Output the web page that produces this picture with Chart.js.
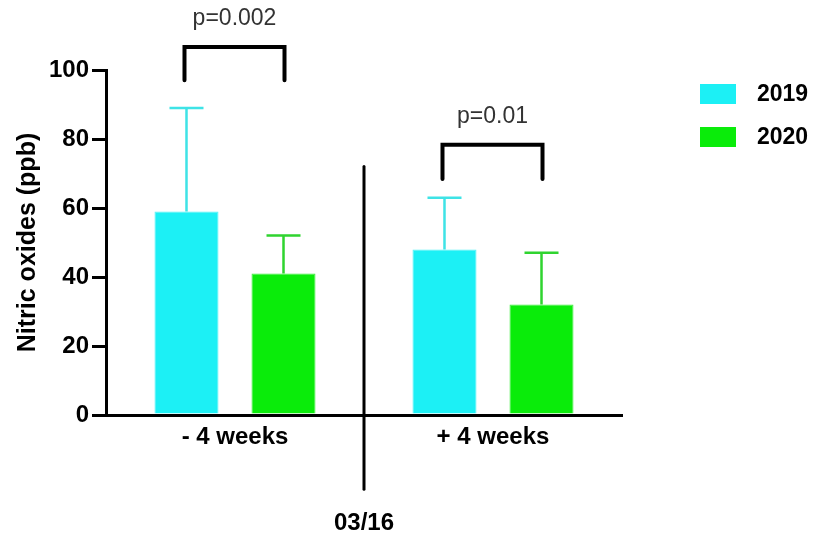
<!DOCTYPE html>
<html>
<head>
<meta charset="utf-8">
<script src="https://cdn.jsdelivr.net/npm/chart.js@4/dist/chart.umd.min.js"></script>
<style>
body{margin:0;background:#fff;}
</style>
</head>
<body>
<canvas id="bar-chart" width="826" height="541"></canvas>
<script>
var periods = ['- 4 weeks', '+ 4 weeks'];
var years = ['2019', '2020'];
var nox2019 = [59, 48];
var nox2020 = [41, 32];
var sd2019 = [30, 15];
var sd2020 = [11, 15];
var pValues = ['p=0.002', 'p=0.01'];
var splitLabel = '03/16';

var cyan = '#1cf0f5';
var green = '#0aec0a';
var FONT = '"Liberation Sans", Arial, sans-serif';

// upper error bars
var errorBars = {
	id: 'errorBars',
	afterDatasetsDraw: function(chart){
		var ctx = chart.ctx, y = chart.scales.y;
		var sds = [sd2019, sd2020];
		var cols = ['#3ee3e6', '#2fd42f'];
		chart.data.datasets.forEach(function(ds, i){
			var meta = chart.getDatasetMeta(i);
			meta.data.forEach(function(bar, j){
				var top = y.getPixelForValue(ds.data[j] + sds[i][j]);
				ctx.save();
				ctx.strokeStyle = cols[i];
				ctx.lineWidth = 2.5;
				ctx.beginPath();
				ctx.moveTo(bar.x, bar.y);
				ctx.lineTo(bar.x, top);
				ctx.moveTo(bar.x - 17, top);
				ctx.lineTo(bar.x + 17, top);
				ctx.stroke();
				ctx.restore();
			});
		});
	}
};

// significance brackets, divider line, legend
var extras = {
	id: 'extras',
	afterDraw: function(chart){
		var ctx = chart.ctx, x = chart.scales.x, y = chart.scales.y;
		var m0 = chart.getDatasetMeta(0), m1 = chart.getDatasetMeta(1);
		var levels = [[106.7, 97], [78.3, 68.4]];
		ctx.save();
		ctx.strokeStyle = '#000';
		ctx.lineWidth = 4;
		ctx.lineCap = 'round';
		ctx.lineJoin = 'miter';
		periods.forEach(function(p, j){
			var l = m0.data[j].x - 2, r = m1.data[j].x + 1;
			var t = y.getPixelForValue(levels[j][0]);
			var b = y.getPixelForValue(levels[j][1]);
			ctx.beginPath();
			ctx.moveTo(l, b);
			ctx.lineTo(l, t);
			ctx.lineTo(r, t);
			ctx.lineTo(r, b);
			ctx.stroke();
			ctx.fillStyle = '#333';
			ctx.font = '23px ' + FONT;
			ctx.textAlign = 'center';
			ctx.textBaseline = 'middle';
			ctx.fillText(pValues[j], (l + r) / 2, t - 28);
		});
		// divider between periods
		var mid = (x.getPixelForValue(0) + x.getPixelForValue(1)) / 2;
		ctx.lineWidth = 3;
		ctx.beginPath();
		ctx.moveTo(mid, y.getPixelForValue(72));
		ctx.lineTo(mid, y.getPixelForValue(-21.5));
		ctx.stroke();
		ctx.fillStyle = '#000';
		ctx.font = 'bold 24px ' + FONT;
		ctx.textAlign = 'center';
		ctx.textBaseline = 'middle';
		ctx.fillText(splitLabel, mid, 523);
		// legend
		var cols = [cyan, green];
		years.forEach(function(yr, i){
			ctx.fillStyle = cols[i];
			ctx.fillRect(700, 84 + i * 43, 36, 20);
			ctx.fillStyle = '#000';
			ctx.font = 'bold 23px ' + FONT;
			ctx.textAlign = 'left';
			ctx.fillText(yr, 757, 95 + i * 43);
		});
		ctx.restore();
	}
};

var ctx = document.getElementById('bar-chart');
new Chart(ctx, {
	type: 'bar',
	data: {
		labels: periods,
		datasets: [
			{ label: years[0], data: nox2019, backgroundColor: cyan, borderColor: '#4ff3f6', borderWidth: 1 },
			{ label: years[1], data: nox2020, backgroundColor: green, borderColor: '#3cf03c', borderWidth: 1 }
		]
	},
	options: {
		responsive: false,
		animation: false,
		layout: { padding: { top: 70, right: 204, left: 0, bottom: 0 } },
		plugins: { legend: { display: false }, tooltip: { enabled: false } },
		datasets: { bar: { categoryPercentage: 0.752, barPercentage: 0.66 } },
		scales: {
			x: {
				grid: { display: false },
				border: { display: true, color: '#000', width: 3 },
				ticks: { color: '#000', font: { family: FONT, size: 24, weight: 'bold' }, padding: 0 },
				afterFit: function(s){ s.height = 126; }
			},
			y: {
				min: 0, max: 100,
				ticks: { stepSize: 20, color: '#000', font: { family: FONT, size: 24, weight: 'bold' }, padding: 3 },
				grid: { drawOnChartArea: false, drawTicks: true, tickLength: 14, color: '#000', lineWidth: 3 },
				border: { display: true, color: '#000', width: 3 },
				title: { display: true, text: 'Nitric oxides (ppb)', color: '#000', font: { family: FONT, size: 25, weight: 'bold' }, padding: { top: 13, bottom: 0 } },
				afterFit: function(s){ s.width = 106; }
			}
		}
	},
	plugins: [errorBars, extras]
});
</script>
</body>
</html>
